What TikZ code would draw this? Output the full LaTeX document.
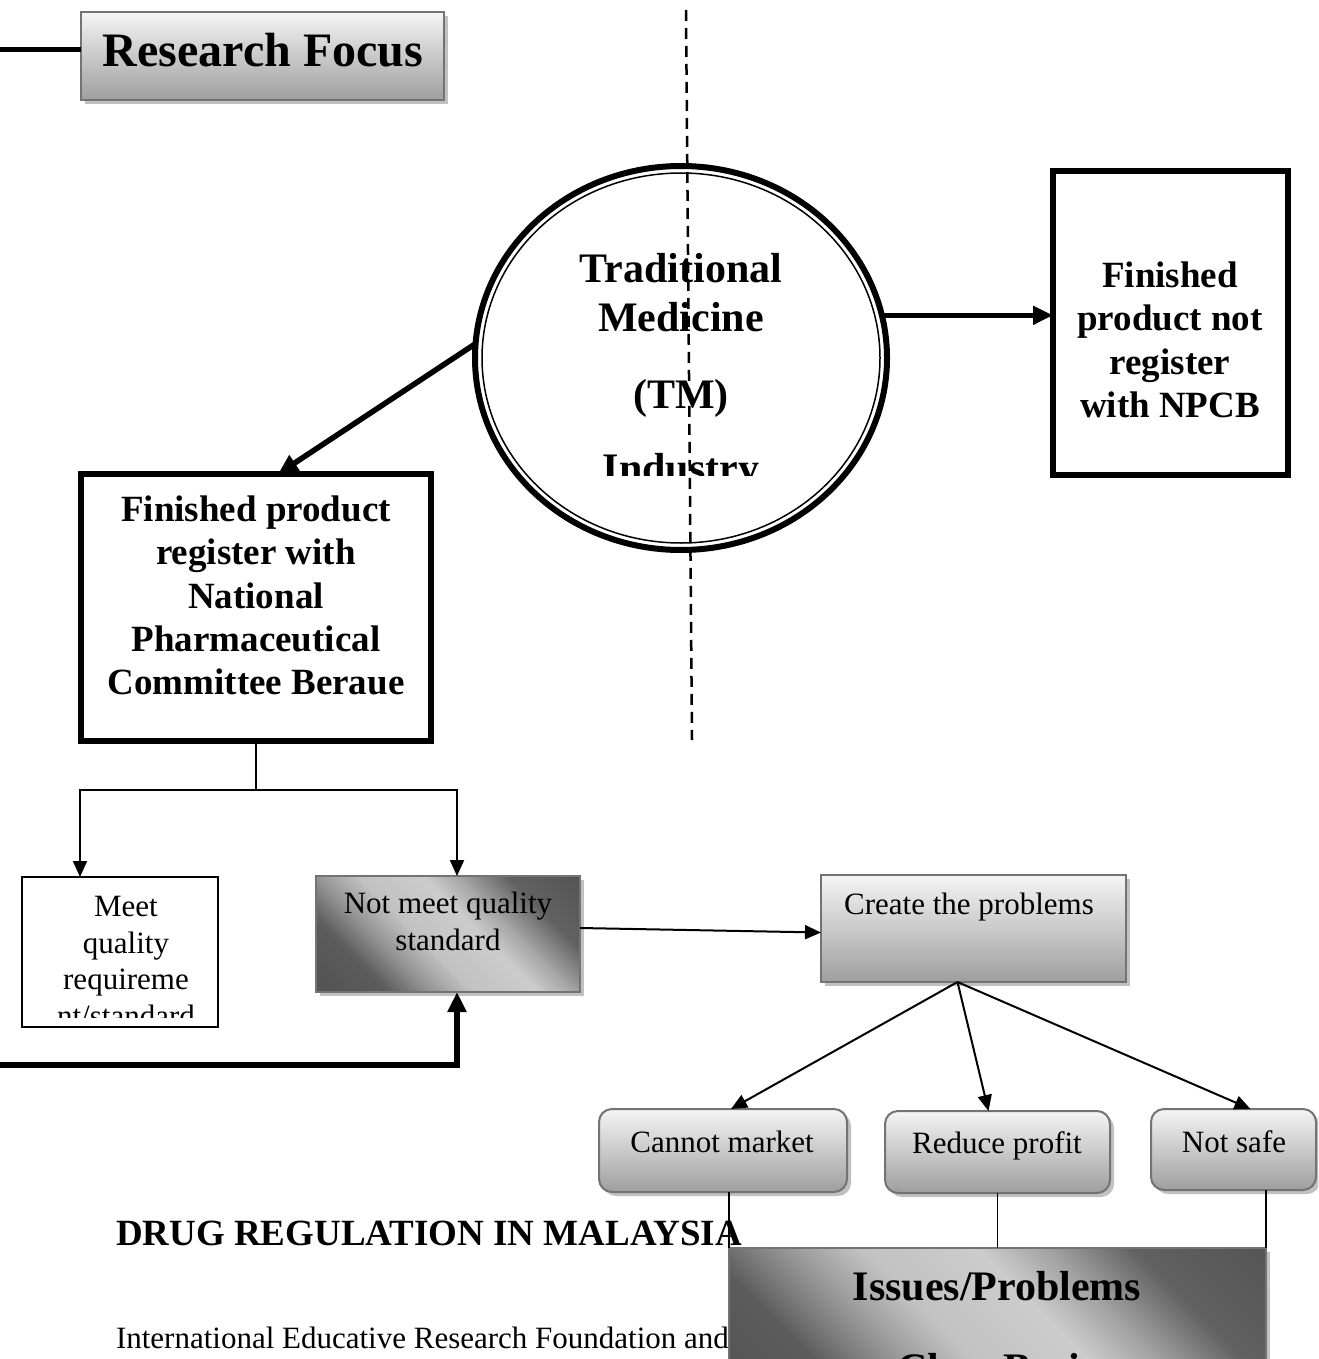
\documentclass[tikz,border=0pt]{standalone}
\usepackage{fontspec}
\setmainfont{Liberation Serif}
\usetikzlibrary{arrows.meta,shapes.geometric,shadows,calc}
\pgfdeclarehorizontalshading{metal}{100bp}{color(0bp)=(black!72); color(28bp)=(black!64); color(36bp)=(black!42); color(44bp)=(black!24); color(56bp)=(black!20); color(63bp)=(black!36); color(72bp)=(black!62); color(100bp)=(black!72)}
\tikzset{
  every node/.style={inner sep=0pt, outer sep=0pt},
  heavybox/.style={draw, line width=6pt, fill=white},
  thinbox/.style={draw, line width=1.5pt, fill=white},
  softshadow/.style={drop shadow={shadow xshift=4pt, shadow yshift=-4pt, fill=black!35, opacity=0.7}},
  vertshade/.style={draw=black!55, line width=2pt, top color=white!96!black, bottom color=black!38, softshadow},
  metalshade/.style={draw=black!55, line width=2pt, shading=metal, shading angle=45, softshadow},
  roundshade/.style={vertshade, rounded corners=13pt},
  boldbig/.style={font=\fontsize{42}{49}\selectfont\bfseries, align=center},
  boldmid/.style={font=\fontsize{37}{43.2}\selectfont\bfseries, align=center},
  plain/.style={font=\fontsize{31}{37}\selectfont, align=center},
  thinline/.style={line width=2pt},
  thinarrow/.style={line width=2pt, -{Triangle[length=16pt,width=14pt]}},
  thickarrow/.style={line width=5.5pt, -{Triangle[length=20pt,width=18pt]}},
}
\begin{document}
\begin{tikzpicture}[x=1pt,y=-1pt]
\useasboundingbox (0,0) rectangle (1318,1359);
\clip (0,0) rectangle (1318,1359);

% Research Focus
\node[vertshade, minimum width=363, minimum height=88, anchor=north west] (rf) at (81,12) {};
\node[font=\fontsize{48}{52}\selectfont\bfseries, anchor=base] (rft) at (263,67) {Research Focus};
\coordinate (rfL) at (0,50);
\draw[line width=5pt] (rfL) -- (rfL -| rf.west);

% Traditional Medicine circle
\node[ellipse, draw, line width=6pt, minimum width=412, minimum height=384] (tm) at (681,358) {};
\draw[line width=1.5pt] (tm.center) ellipse [x radius=199, y radius=185];
\begin{scope}
  \clip (470,150) rectangle (892,475);
  \node[boldbig, anchor=north] (tmt) at (681,253) {Traditional\\Medicine\\[28pt](TM)\\[25pt]Industry};
\end{scope}

% dashed divider
\coordinate (dTop) at (686,10);
\coordinate (dBot) at (692,740);
\draw[line width=2.5pt, dash pattern=on 11pt off 7pt] (dTop) -- (dBot);

% right box
\node[heavybox, minimum width=235, minimum height=304, anchor=north west] (rb) at (1053,171) {};
\node[boldmid, anchor=north] (rbt) at (1170,262) {Finished\\product not\\register\\with NPCB};
\draw[thickarrow] (tm.12) -- (tm.12 -| rb.west);

% left box
\node[heavybox, minimum width=350, minimum height=267, anchor=north west] (lb) at (81,474) {};
\node[boldmid, anchor=north] (lbt) at (256,496) {Finished product\\register with\\National\\Pharmaceutical\\Committee Beraue};
\draw[thickarrow] (tm.176) -- ($(lb.north)+(22,0)$);

% Meet box
\node[thinbox, minimum width=196, minimum height=150, anchor=north west] (mq) at (22,877) {};
\begin{scope}
  \clip (22,870) rectangle (218,1017);
  \node[font=\fontsize{31}{36.5}\selectfont, align=center, anchor=north] (mqt) at (126,896.5) {Meet\\quality\\requireme\\nt/standard};
\end{scope}

% Not meet box
\node[metalshade, minimum width=264, minimum height=116, anchor=north west] (nm) at (316,876) {};
\node[plain, anchor=north] (nmt) at (448,892) {Not meet quality\\standard};

% tree from left box
\coordinate (tj) at ($(lb.south)+(0,49)$);
\draw[thinline] (lb.south) -- (tj);
\draw[thinarrow] (tj) -| (mq.north -| 80,0);
\draw[thinarrow] (tj) -| ($(nm.north)+(9,0)$);

% feedback thick arrow
\coordinate (fbL) at (0,1065);
\draw[line width=6pt, -{Triangle[length=20pt,width=18pt]}] (fbL) -| ($(nm.south)+(9,0)$);

% Create box
\node[vertshade, minimum width=305, minimum height=107, anchor=north west] (cp) at (821,875) {};
\node[plain, anchor=base] (cpt) at (969,914) {Create the problems};
\draw[thinarrow] ($(nm.east)+(0,-6)$) -- ($(cp.west)+(0,4)$);

% three outcome boxes
\node[roundshade, minimum width=248, minimum height=83, anchor=north west] (cm) at (599,1109) {};
\node[plain, anchor=base] (cmt) at (722,1152) {Cannot market};
\node[roundshade, minimum width=225, minimum height=82, anchor=north west] (rp) at (885,1111) {};
\node[plain, anchor=base] (rpt) at (997,1153) {Reduce profit};
\node[roundshade, minimum width=165, minimum height=81, anchor=north west] (ns) at (1151,1109) {};
\node[plain, anchor=base] (nst) at (1234,1152) {Not safe};

\coordinate (cpB) at ($(cp.south)+(-16,0)$);
\draw[thinarrow] (cpB) -- ($(cm.north)+(8,0)$);
\draw[thinarrow] (cpB) -- ($(rp.north)+(-9,0)$);
\draw[thinarrow] (cpB) -- ($(ns.north)+(17,0)$);

% page text
\node[font=\fontsize{37}{43}\selectfont\bfseries, anchor=base west] (drug) at (116,1245) {DRUG REGULATION IN MALAYSIA};
\node[font=\fontsize{31}{37}\selectfont, anchor=base west] (ierf) at (116,1348) {International Educative Research Foundation and};

% Issues box
\node[metalshade, minimum width=537, minimum height=160, anchor=north west] (ip) at (729,1248) {};
\node[font=\fontsize{42}{82}\selectfont\bfseries, align=center, anchor=north] (ipt) at (997,1271) {Issues/Problems\\Class Basis};

\draw[line width=1.5pt] (cm.south -| ip.west) -- (ip.north west);
\draw[line width=1.5pt] (rp.south) -- (rp.south |- ip.north);
\draw[line width=1.5pt] (ns.south -| ip.east) -- (ip.north east);
\end{tikzpicture}
\end{document}
